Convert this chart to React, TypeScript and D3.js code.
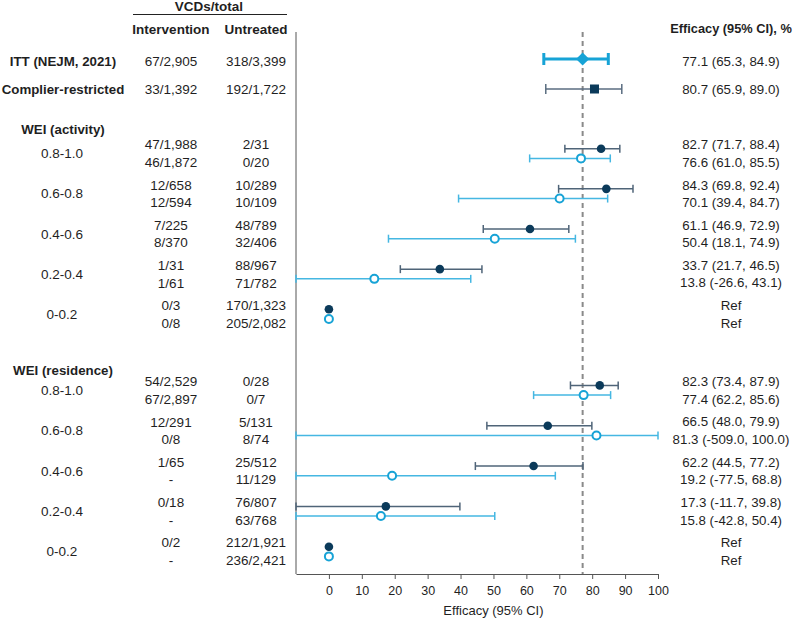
import React, { useEffect, useRef } from "react";
import * as d3 from "d3";

// strata labels (top -> bottom inside each WEI block)
const strata = ["0.8-1.0", "0.6-0.8", "0.4-0.6", "0.2-0.4", "0-0.2"];

// WEI (activity): first line = filled (dark), second line = open (light blue)
const actIntA = ["47/1,988", "12/658", "7/225", "1/31", "0/3"];
const actUntA = ["2/31", "10/289", "48/789", "88/967", "170/1,323"];
const actEstA = [82.7, 84.3, 61.1, 33.7, 0];
const actLoA = [71.7, 69.8, 46.9, 21.7, null];
const actHiA = [88.4, 92.4, 72.9, 46.5, null];

const actIntB = ["46/1,872", "12/594", "8/370", "1/61", "0/8"];
const actUntB = ["0/20", "10/109", "32/406", "71/782", "205/2,082"];
const actEstB = [76.6, 70.1, 50.4, 13.8, 0];
const actLoB = [61.0, 39.4, 18.1, -26.6, null];
const actHiB = [85.5, 84.7, 74.9, 43.1, null];

// WEI (residence)
const resIntA = ["54/2,529", "12/291", "1/65", "0/18", "0/2"];
const resUntA = ["0/28", "5/131", "25/512", "76/807", "212/1,921"];
const resEstA = [82.3, 66.5, 62.2, 17.3, 0];
const resLoA = [73.4, 48.0, 44.5, -11.7, null];
const resHiA = [87.9, 79.9, 77.2, 39.8, null];

const resIntB = ["67/2,897", "0/8", "-", "-", "-"];
const resUntB = ["0/7", "8/74", "11/129", "63/768", "236/2,421"];
const resEstB = [77.4, 81.3, 19.2, 15.8, 0];
const resLoB = [62.2, -509.0, -77.5, -42.8, null];
const resHiB = [85.6, 100.0, 68.8, 50.4, null];

// overall rows
const ittCounts = ["67/2,905", "318/3,399"];
const ittEst = [77.1, 65.3, 84.9];
const compCounts = ["33/1,392", "192/1,722"];
const compEst = [80.7, 65.9, 89.0];

const xTicks = [0, 10, 20, 30, 40, 50, 60, 70, 80, 90, 100];

const fmt = (v: number) => v.toFixed(1);

export default function App() {
  const svgRef = useRef<SVGSVGElement>(null);

  useEffect(() => {
    const w = 799;
    const h = 618;
    const font = "'Liberation Sans', Arial, sans-serif";

    const dark = "#0b3a5a";
    const darkCI = "#4f6478";
    const light = "#17a3d6";
    const lightCI = "#45b7e2";

    const svg = d3
      .select(svgRef.current)
      .attr("width", w)
      .attr("height", h)
      .style("background", "#fff")
      .style("font-family", font);

    svg.selectAll("*").remove();

    const xScale = d3.scaleLinear().domain([-10, 100]).range([296, 658]);
    const clip = (v: number) => Math.max(-10, Math.min(100, v));

    const axisTop = 32;
    const axisY = 574;

    // y positions of the filled (first) marker in each pair
    const yAct = d3.scaleLinear().domain([0, 4]).range([148.7, 309.3]);
    const yRes = d3.scaleLinear().domain([0, 4]).range([385.4, 546.7]);
    const pairGap = 9.7;
    const textHalf = 8.8;

    const colInt = 171;
    const colUnt = 256;
    const colLab = 63;
    const colEff = 731;

    const txt = (
      x: number,
      y: number,
      s: string,
      bold = false,
      size = 13.5,
      anchor = "middle"
    ) =>
      svg
        .append("text")
        .attr("x", x)
        .attr("y", y)
        .attr("dy", "0.35em")
        .attr("text-anchor", anchor)
        .attr("font-size", size)
        .attr("font-weight", bold ? "bold" : "normal")
        .attr("fill", "#1f1f1f")
        .text(s);

    // headers
    txt(209, 6, "VCDs/total", true, 13.5);
    svg
      .append("line")
      .attr("x1", 133)
      .attr("x2", 287)
      .attr("y1", 14.5)
      .attr("y2", 14.5)
      .attr("stroke", "#222")
      .attr("stroke-width", 1);
    txt(colInt, 29, "Intervention", true, 13.5);
    txt(colUnt, 29, "Untreated", true, 13.5);
    txt(colEff, 29, "Efficacy (95% CI), %", true, 12.8);

    // axes
    svg
      .append("line")
      .attr("x1", 296)
      .attr("x2", 296)
      .attr("y1", axisTop)
      .attr("y2", axisY)
      .attr("stroke", "#555")
      .attr("stroke-width", 1);

    const xAxis = d3.axisBottom(xScale).tickValues(xTicks).tickSize(5).tickSizeOuter(0);
    const gx = svg.append("g").attr("transform", `translate(0,${axisY})`).call(xAxis);
    gx.select(".domain").attr("stroke", "#555");
    gx.selectAll(".tick line").attr("stroke", "#555");
    gx.selectAll(".tick text")
      .attr("font-size", 12.5)
      .attr("font-family", font)
      .attr("fill", "#1f1f1f")
      .attr("dy", "1.0em");

    txt(xScale(50), 610, "Efficacy (95% CI)", false, 13);

    // reference dashed line at ITT estimate
    svg
      .append("line")
      .attr("x1", xScale(ittEst[0]))
      .attr("x2", xScale(ittEst[0]))
      .attr("y1", axisTop)
      .attr("y2", axisY)
      .attr("stroke", "#8a8a8a")
      .attr("stroke-width", 2)
      .attr("stroke-dasharray", "5,4");

    const ci = (
      y: number,
      lo: number,
      hi: number,
      color: string,
      sw = 1.5,
      cap = 4
    ) => {
      const x1 = xScale(clip(lo));
      const x2 = xScale(clip(hi));
      svg.append("line").attr("x1", x1).attr("x2", x2).attr("y1", y).attr("y2", y)
        .attr("stroke", color).attr("stroke-width", sw);
      [x1, x2].forEach((x) =>
        svg.append("line").attr("x1", x).attr("x2", x).attr("y1", y - cap).attr("y2", y + cap)
          .attr("stroke", color).attr("stroke-width", sw)
      );
    };

    const effSize = 13.3;

    // ITT row
    const yITT = 59;
    txt(colLab, yITT + 2, "ITT (NEJM, 2021)", true, 13.3);
    txt(colInt, yITT + 2, ittCounts[0]);
    txt(colUnt, yITT + 2, ittCounts[1]);
    txt(colEff, yITT + 2, `${fmt(ittEst[0])} (${fmt(ittEst[1])}, ${fmt(ittEst[2])})`, false, effSize);
    ci(yITT, ittEst[1], ittEst[2], light, 3, 6);
    svg.append("path")
      .attr("d", d3.symbol(d3.symbolDiamond2, 110)())
      .attr("transform", `translate(${xScale(ittEst[0])},${yITT})`)
      .attr("fill", light);

    // complier row
    const yComp = 89;
    txt(colLab, yComp, "Complier-restricted", true, 13.3);
    txt(colInt, yComp, compCounts[0]);
    txt(colUnt, yComp, compCounts[1]);
    txt(colEff, yComp, `${fmt(compEst[0])} (${fmt(compEst[1])}, ${fmt(compEst[2])})`, false, effSize);
    ci(yComp, compEst[1], compEst[2], "#5a6d80", 1.5, 5);
    svg.append("rect")
      .attr("x", xScale(compEst[0]) - 4.5)
      .attr("y", yComp - 4.5)
      .attr("width", 9)
      .attr("height", 9)
      .attr("fill", dark);

    const block = (
      title: string,
      yTitle: number,
      yS: d3.ScaleLinear<number, number>,
      intA: string[], untA: string[], estA: number[], loA: (number | null)[], hiA: (number | null)[],
      intB: string[], untB: string[], estB: number[], loB: (number | null)[], hiB: (number | null)[]
    ) => {
      txt(colLab, yTitle, title, true, 13.3);
      strata.forEach((s, i) => {
        const ya = yS(i);
        const yb = ya + pairGap;
        const mid = (ya + yb) / 2;
        const ta = mid - textHalf;
        const tb = mid + textHalf;
        txt(colLab - 1, mid, s);
        txt(colInt, ta, intA[i]);
        txt(colInt, tb, intB[i]);
        txt(colUnt, ta, untA[i]);
        txt(colUnt, tb, untB[i]);
        const la = loA[i];
        const ha = hiA[i];
        const lb = loB[i];
        const hb = hiB[i];
        txt(colEff, ta, la == null || ha == null ? "Ref" : `${fmt(estA[i])} (${fmt(la)}, ${fmt(ha)})`, false, effSize);
        txt(colEff, tb, lb == null || hb == null ? "Ref" : `${fmt(estB[i])} (${fmt(lb)}, ${fmt(hb)})`, false, effSize);
        if (la != null && ha != null) ci(ya, la, ha, darkCI, 1.5, 4);
        if (lb != null && hb != null) ci(yb, lb, hb, lightCI, 1.5, 4);
        svg.append("circle").attr("cx", xScale(estA[i])).attr("cy", ya).attr("r", 4.3).attr("fill", dark);
        svg.append("circle").attr("cx", xScale(estB[i])).attr("cy", yb).attr("r", 4)
          .attr("fill", "#fff").attr("stroke", light).attr("stroke-width", 2);
      });
    };

    block("WEI (activity)", 129, yAct,
      actIntA, actUntA, actEstA, actLoA, actHiA,
      actIntB, actUntB, actEstB, actLoB, actHiB);
    block("WEI (residence)", 370.5, yRes,
      resIntA, resUntA, resEstA, resLoA, resHiA,
      resIntB, resUntB, resEstB, resLoB, resHiB);
  }, []);

  return (
    <div>
      <svg ref={svgRef} style={{ position: "absolute", left: 0, top: 0 }}></svg>
    </div>
  );
}
